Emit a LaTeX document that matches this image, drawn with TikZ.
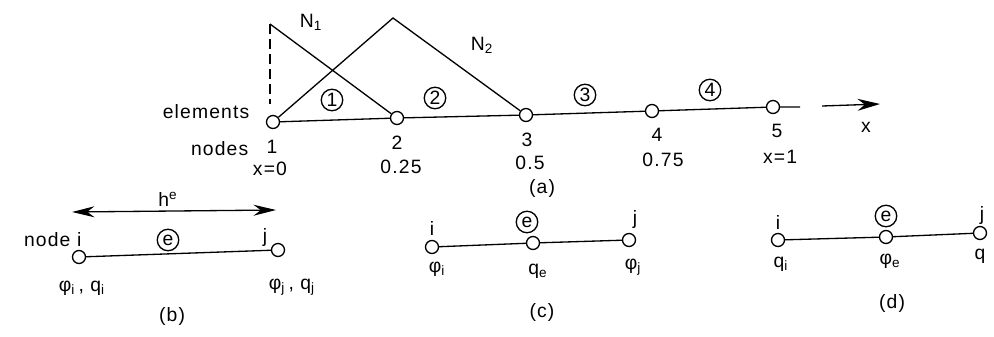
\documentclass[tikz,border=0pt]{standalone}
\usepackage{fontspec}
\setmainfont{Liberation Sans}[LetterSpace=6]
\usetikzlibrary{arrows.meta}
\tikzset{nd/.style={circle,draw,fill=white,inner sep=0pt,minimum size=2.6mm},
el/.style={circle,draw,inner sep=0pt,minimum size=4.3mm},
tip/.style={-{Stealth[length=4.5mm,width=2.4mm]}},
dtip/.style={{Stealth[length=4.5mm,width=2.2mm]}-{Stealth[length=4.5mm,width=2.2mm]}}}
\begin{document}
\begin{tikzpicture}[x=0.02cm,y=-0.02cm,line width=0.75pt,inner sep=0pt,font=\fontsize{11}{12}\selectfont]
\useasboundingbox(0,0)rectangle(994,336);
% (a) mesh of four elements
\node[nd](n1)at(273,122){};\node[nd](n2)at(397,118){};\node[nd](n3)at(526,115){};\node[nd](n4)at(652,111){};\node[nd](n5)at(773,107){};
\coordinate(xe)at(800,107);\coordinate(xa)at(822,106);\coordinate(xb)at(880,104);
\coordinate(p1)at(270,24);\coordinate(p1b)at(270,104);\coordinate(p2)at(393,18);
\draw(n1)--(n2)--(n3)--(n4)--(n5)--(xe);\draw[tip](xa)--(xb);
\draw[dash pattern=on 2mm off 1mm](p1)--(p1b);\draw(p1)--(n2);\draw(n1)--(p2)--(n3);
\node(N1)at(311,22){N\textsubscript{1}};\node(N2)at(482,45){N\textsubscript{2}};
\node[el](e1)at(332,100){1};\node[el](e2)at(435,98){2};\node[el](e3)at(585,95){3};\node[el](e4)at(710,90){4};
\node[anchor=east](lel)at(250,112){elements};\node[anchor=east](lnd)at(249,149){nodes};
\node(t1)at(272,147){1};\node(t2)at(397,143){2};\node(t3)at(527,140){3};\node(t4)at(657,135){4};\node(t5)at(777,131){5};
\node(v1)at(270,169){x=0};\node(v2)at(401,167){0.25};\node(v3)at(530,163){0.5};\node(v4)at(663,160){0.75};\node(v5)at(780,157){x=1};
\node(xl)at(866,127){x};\node(ca)at(542,188){(a)};
% (b) one element
\coordinate(ha)at(72,212);\coordinate(hb)at(276,210);\draw[dtip](ha)--(hb);
\node(he)at(168,199){h\textsuperscript{e}};
\node[nd](bi)at(79,257){};\node[nd](bj)at(278,250){};\draw(bi)--(bj);
\node[anchor=east](bni)at(82,240){node i};\node(bjl)at(265,237){j};\node[el](be)at(168,240){e};
\node(bpi)at(82,288){φ\textsubscript{i}\,, q\textsubscript{i}};\node(bpj)at(292,287){φ\textsubscript{j}\,, q\textsubscript{j}};
\node(cb)at(172,316){(b)};
% (c)
\node[nd](ci)at(432,247){};\node[nd](ce)at(533,243){};\node[nd](cj)at(629,240){};\draw(ci)--(ce)--(cj);
\node(cil)at(432,228){i};\node[el](cel)at(527,222){e};\node(cjl)at(635,219){j};
\node(cpi)at(437,269){φ\textsubscript{i}};\node(cqe)at(538,271){q\textsubscript{e}};\node(cpj)at(633,267){φ\textsubscript{j}};
\node(cc)at(542,312){(c)};
% (d)
\node[nd](di)at(778,240){};\node[nd](de)at(886,237){};\node[nd](dj)at(980,233){};\draw(di)--(de)--(dj);
\node(dil)at(778,222){i};\node[el](del)at(886,216){e};\node(djl)at(982,215){j};
\node(dqi)at(781,264){q\textsubscript{i}};\node(dpe)at(890,261){φ\textsubscript{e}};\node(dq)at(980,256){q};
\node(cd)at(892,303){(d)};
\end{tikzpicture}
\end{document}
